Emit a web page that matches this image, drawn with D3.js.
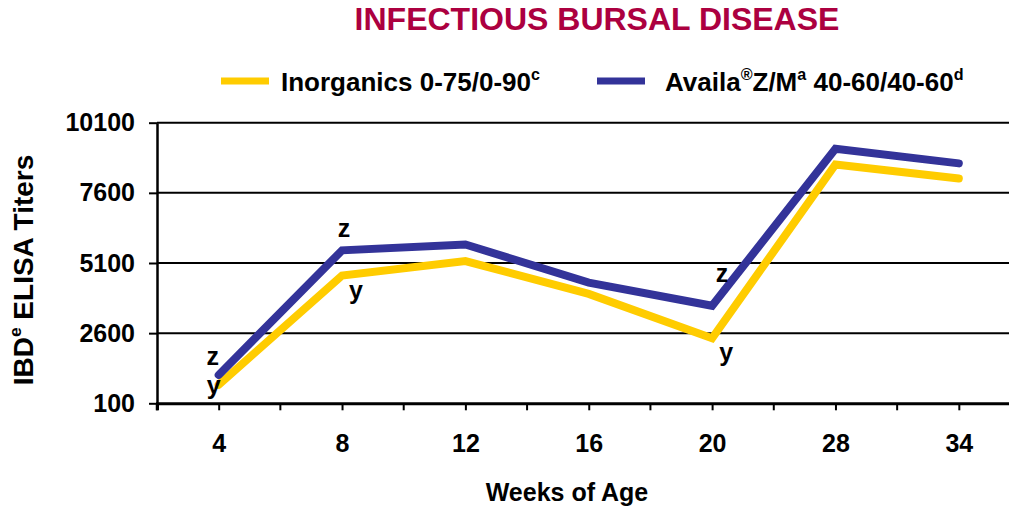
<!DOCTYPE html>
<html>
<head>
<meta charset="utf-8">
<title>Infectious Bursal Disease</title>
<style>
  body { margin: 0; background: #ffffff; }
  svg text { font-family: 'Liberation Sans', Arial, Helvetica, sans-serif; font-weight: bold; fill: #000; }
</style>
</head>
<body>
<div id="viz"></div>
<script src="https://d3js.org/d3.v7.min.js"></script>
<script>

// data
var weeks = ['4', '8', '12', '16', '20', '28', '34'];
var inorganics = [760, 4650, 5170, 4000, 2420, 8610, 8110];
var availa = [1110, 5550, 5760, 4400, 3575, 9170, 8650];
var yTicks = [100, 2600, 5100, 7600, 10100];

// legend labels, [text, isSuperscript]
var inorganicsLabel = [['Inorganics 0-75/0-90', false], ['c', true]];
var availaLabel = [['Availa', false], ['®', true], ['Z/M', false], ['a', true], [' 40-60/40-60', false], ['d', true]];
var yTitle = [['IBD', false], ['e', true], [' ELISA Titers', false]];

// significance letters
var letters = [
  {week: '4', series: 'availa', letter: 'z'},
  {week: '4', series: 'inorganics', letter: 'y'},
  {week: '8', series: 'availa', letter: 'z'},
  {week: '8', series: 'inorganics', letter: 'y'},
  {week: '20', series: 'availa', letter: 'z'},
  {week: '20', series: 'inorganics', letter: 'y'}
];

var series = [
  {key: 'inorganics', color: '#FFCC00', values: inorganics, label: inorganicsLabel},
  {key: 'availa', color: '#333399', values: availa, label: availaLabel}
];

var width = 1009, height = 510;
var plotLeft = 157, plotBottom = 403.3, plotTop = 122.7;

var svg = d3.select('#viz').append('svg')
    .attr('width', width)
    .attr('height', height);

var x = d3.scalePoint().domain(weeks).range([plotLeft, 1020.5]).padding(0.5);
var y = d3.scaleLinear().domain([100, 10100]).range([plotBottom, plotTop]);
var step = x.step();

// title
svg.append('text')
    .attr('x', 597)
    .attr('y', 30)
    .attr('text-anchor', 'middle')
    .attr('font-size', 32)
    .style('fill', '#AC0040')
    .text('INFECTIOUS BURSAL DISEASE');

// helper for text with superscripts
function writeParts(sel, parts, size) {
  var raised = false;
  parts.forEach(function(p) {
    var t = sel.append('tspan').text(p[0]);
    if (p[1] && !raised) { t.attr('dy', -size * 0.42).attr('font-size', size * 0.62); raised = true; }
    else if (p[1]) { t.attr('font-size', size * 0.62); }
    else if (raised) { t.attr('dy', size * 0.42); raised = false; }
  });
}

// legend
var legendX = [221, 597];
series.forEach(function(s, i) {
  var lg = svg.append('g').attr('transform', 'translate(' + legendX[i] + ',81)');
  lg.append('line')
      .attr('x1', 0).attr('x2', 48)
      .attr('stroke', s.color)
      .attr('stroke-width', 7);
  var t = lg.append('text')
      .attr('x', i == 0 ? 60 : 68)
      .attr('y', 10)
      .attr('font-size', 26);
  writeParts(t, s.label, 26);
});

// grid lines
svg.append('g').selectAll('line')
    .data(yTicks.slice(1))
    .enter().append('line')
    .attr('x1', plotLeft).attr('x2', width)
    .attr('y1', function(d) { return y(d); })
    .attr('y2', function(d) { return y(d); })
    .attr('stroke', '#000')
    .attr('stroke-width', 2);

// x axis
var xAxis = svg.append('g')
    .attr('transform', 'translate(0,' + plotBottom + ')')
    .call(d3.axisBottom(x).tickSize(7).tickPadding(24));
xAxis.select('.domain').attr('stroke-width', 3);
xAxis.selectAll('.tick line').attr('stroke-width', 2);
xAxis.selectAll('text').attr('font-size', 25).attr('font-family', null);

// minor ticks between the weeks
xAxis.selectAll('.minor')
    .data(weeks)
    .enter().append('line')
    .attr('x1', function(d) { return x(d) + step / 2; })
    .attr('x2', function(d) { return x(d) + step / 2; })
    .attr('y2', 7)
    .attr('stroke', '#000')
    .attr('stroke-width', 2);
xAxis.append('line')
    .attr('x1', plotLeft).attr('x2', plotLeft).attr('y2', 7)
    .attr('stroke', '#000').attr('stroke-width', 2.5);

// y axis
var yAxis = svg.append('g')
    .attr('transform', 'translate(' + plotLeft + ',0)')
    .call(d3.axisLeft(y).tickValues(yTicks).tickFormat(d3.format('d'))
      .tickSize(8).tickPadding(14).tickSizeOuter(0));
yAxis.select('.domain').attr('stroke-width', 2.5);
yAxis.selectAll('.tick line').attr('stroke-width', 2);
yAxis.selectAll('text').attr('font-size', 25).attr('font-family', null);

// axis titles
svg.append('text')
    .attr('x', 567)
    .attr('y', 501)
    .attr('text-anchor', 'middle')
    .attr('font-size', 25)
    .text('Weeks of Age');

var yt = svg.append('text')
    .attr('transform', 'translate(33,270) rotate(-90)')
    .attr('text-anchor', 'middle')
    .attr('font-size', 28);
writeParts(yt, yTitle, 28);

// lines
var line = d3.line()
    .x(function(d) { return x(d.week); })
    .y(function(d) { return y(d.value); });

series.forEach(function(s) {
  var pts = weeks.map(function(w, i) { return {week: w, value: s.values[i]}; });
  svg.append('path')
      .datum(pts)
      .attr('d', line)
      .attr('fill', 'none')
      .attr('stroke', s.color)
      .attr('stroke-width', 8)
      .attr('stroke-linecap', 'round')
      .attr('stroke-linejoin', 'miter');
});

// letters next to the points
var nudge = [[-6, -10], [-5, 9], [2, -13], [14, 23], [10, -24], [14, 23]];
letters.forEach(function(d, i) {
  var s = d.series == 'availa' ? availa : inorganics;
  var v = s[weeks.indexOf(d.week)];
  svg.append('text')
      .attr('x', x(d.week) + nudge[i][0])
      .attr('y', y(v) + nudge[i][1])
      .attr('text-anchor', 'middle')
      .attr('font-size', 25)
      .text(d.letter);
});

</script>
</body>
</html>
